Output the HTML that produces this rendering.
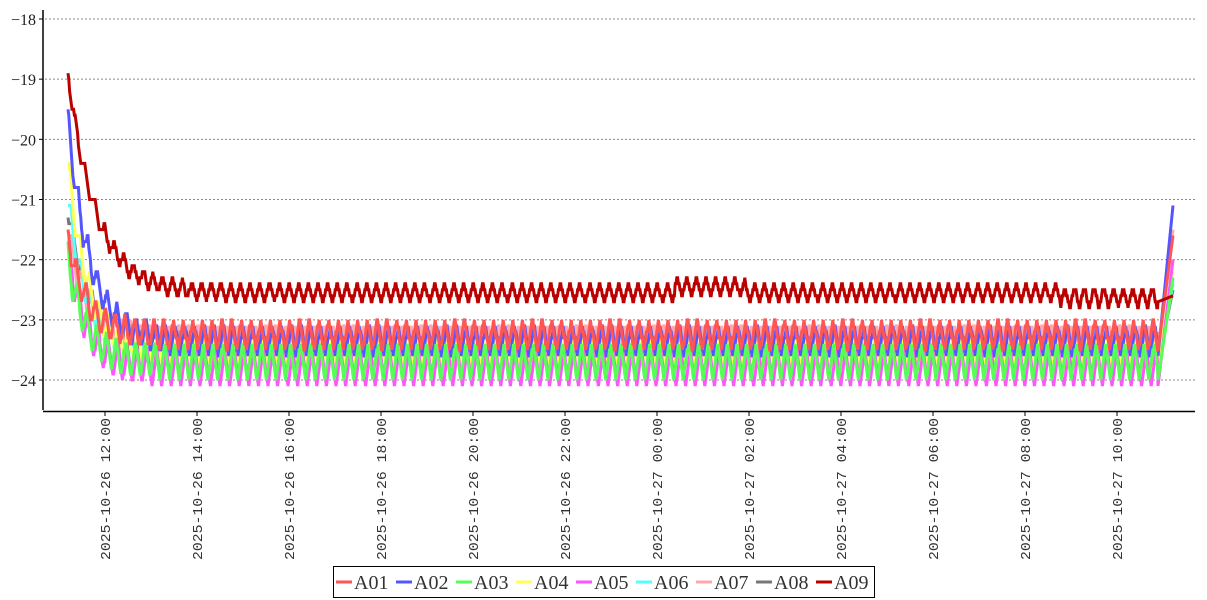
<!DOCTYPE html>
<html><head><meta charset="utf-8"><style>
html,body{margin:0;padding:0;background:#fff;width:1207px;height:600px;overflow:hidden}
svg{display:block}
</style></head><body>
<svg id="c" width="1207" height="600" xmlns="http://www.w3.org/2000/svg">
<g id="grid"></g>
<g id="series" fill="none" stroke-width="3" stroke-linejoin="miter"></g>
<line x1="43" y1="10" x2="43" y2="410" stroke="#000" stroke-width="1.5"/>
<line x1="43" y1="411.5" x2="1195" y2="411.5" stroke="#000" stroke-width="1.5"/>
<g id="ylab" font-family="Liberation Serif, serif" font-size="16" text-anchor="end" fill="#222"></g>
<g id="xlab" font-family="Liberation Mono, monospace" font-size="14" fill="#333"></g>
<g id="legend"></g>
</svg>
<script>
const NS="http://www.w3.org/2000/svg";
function el(t,a,p,txt){const e=document.createElementNS(NS,t);for(const k in a)e.setAttribute(k,a[k]);if(txt!==undefined)e.textContent=txt;p.appendChild(e);return e;}
const Y=v=>19+(-18-v)*60.17;
const grid=document.getElementById('grid'),ylab=document.getElementById('ylab'),xlab=document.getElementById('xlab');
for(let v=-18;v>=-24;v--){const y=Y(v);
 el('line',{x1:45,y1:y,x2:1195,y2:y,stroke:'#888','stroke-width':1,'stroke-dasharray':'2,2'},grid);
 el('line',{x1:39,y1:y,x2:43,y2:y,stroke:'#000','stroke-width':1},grid);
 el('text',{x:36,y:y+6},ylab,'\u2212'+(-v));}
const labs=['2025-10-26 12:00','2025-10-26 14:00','2025-10-26 16:00','2025-10-26 18:00','2025-10-26 20:00','2025-10-26 22:00','2025-10-27 00:00','2025-10-27 02:00','2025-10-27 04:00','2025-10-27 06:00','2025-10-27 08:00','2025-10-27 10:00'];
labs.forEach((s,i)=>{const x=105+92*i;
 el('line',{x1:x,y1:412,x2:x,y2:416},grid).setAttribute('stroke','#000');
 el('text',{x:0,y:0,transform:`translate(${x+5},560) rotate(-90)`,textLength:142,lengthAdjust:'spacingAndGlyphs'},xlab,s);});
const S=[
 ['A08','#777777',-23.7,-23.2,-21.1,-22.5,20],
 ['A07','#ffaaaa',-23.6,-23.1,-21.5,-21.5,20],
 ['A06','#55ffff',-23.8,-23.3,-21.0,-22.4,20],
 ['A04','#ffff55',-23.8,-23.3,-20.4,-22.2,20],
 ['A05','#ff55ff',-24.1,-23.5,-21.8,-22.0,18],
 ['A02','#5555ff',-23.6,-23.1,-19.7,-21.1,22],
 ['A03','#55ff55',-24.0,-23.4,-22.0,-22.3,18],
 ['A01','#ff5555',-23.5,-23.0,-21.6,-21.6,18],
 ['A09','#bb0000',-22.7,-22.4,-18.9,-22.6,28]];
const g=document.getElementById('series');
const P=9.7,x0=68,xe=1158,x1=1173;
S.forEach((s,i)=>{const [n,c,lo,hi,st,en,tau]=s;let pts=[];
 for(let x=x0;x<=xe;x+=0.8){
  const ph=((x-x0)/P+i*0.09)%1;const tri=ph<0.5?ph*2:2-ph*2;
  let l=lo,h=hi;
  if(n==='A09'&&x>675&&x<745){l+=0.1;h+=0.1;}
  if(n==='A09'&&x>1060){l-=0.1;h-=0.05;}
  let v=l+(h-l)*tri;
  const mid=(lo+hi)/2;
  v+=(st-mid)*Math.exp(-(x-x0)/tau);
  v=Math.round(v*10)/10;
  pts.push(x.toFixed(1)+','+Y(v).toFixed(1));}
 for(let x=xe;x<=x1;x+=1){const f=(x-xe)/(x1-xe);const v=lo+(en-lo)*f;pts.push(x+','+Y(v).toFixed(1));}
 el('polyline',{points:pts.join(' '),stroke:c},g);});
const lg=document.getElementById('legend');
el('rect',{x:333.5,y:566.5,width:541,height:31,fill:'#fff',stroke:'#000','stroke-width':1},lg);
const order=['A01','A02','A03','A04','A05','A06','A07','A08','A09'];
const cols={A01:'#ff5555',A02:'#5555ff',A03:'#55ff55',A04:'#ffff55',A05:'#ff55ff',A06:'#55ffff',A07:'#ffaaaa',A08:'#777777',A09:'#bb0000'};
order.forEach((n,i)=>{const x=336+i*60;
 el('line',{x1:x,y1:582,x2:x+16,y2:582,stroke:cols[n],'stroke-width':3},lg);
 el('text',{x:x+18,y:589,'font-family':'Liberation Serif, serif','font-size':20,fill:'#333'},lg,n);});
</script>
</body></html>
